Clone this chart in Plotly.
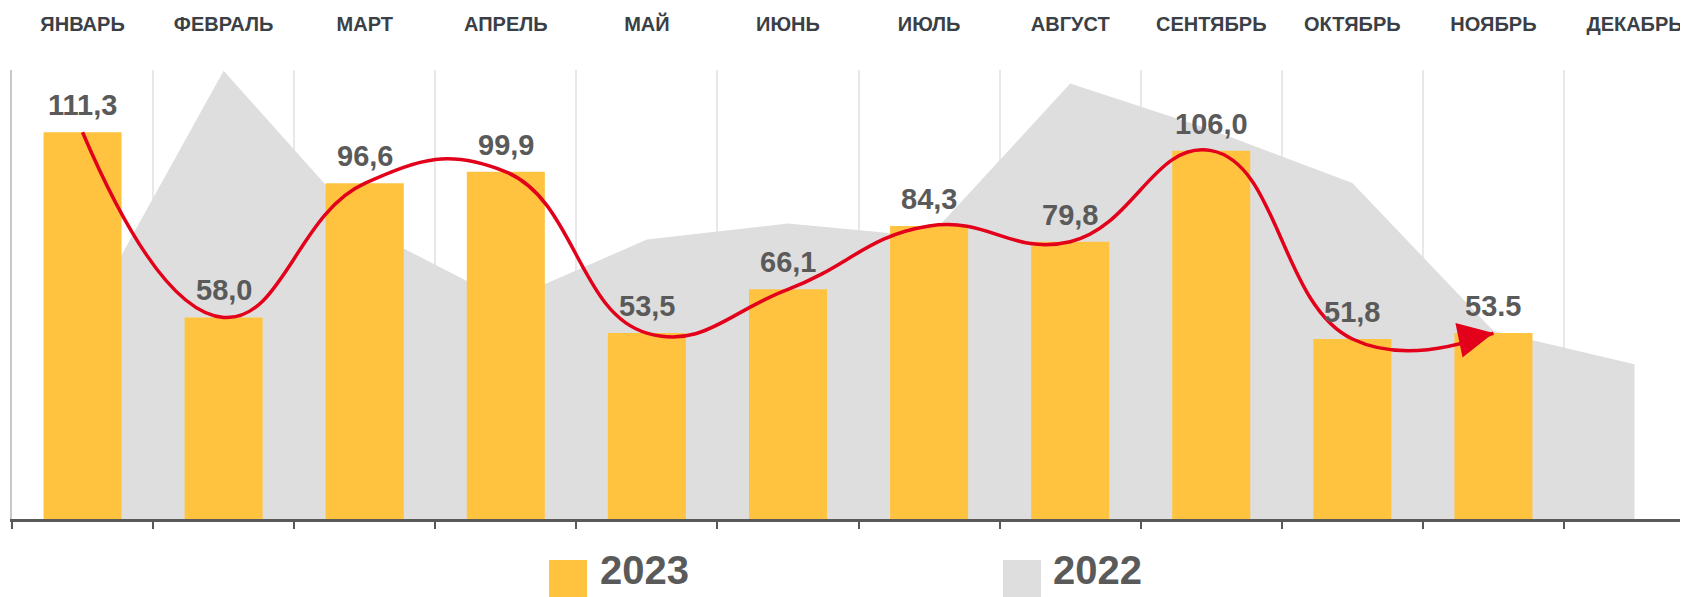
import plotly.graph_objects as go

months = ["ЯНВАРЬ", "ФЕВРАЛЬ", "МАРТ", "АПРЕЛЬ", "МАЙ", "ИЮНЬ", "ИЮЛЬ",
          "АВГУСТ", "СЕНТЯБРЬ", "ОКТЯБРЬ", "НОЯБРЬ", "ДЕКАБРЬ"]
values_2023 = [111.3, 58.0, 96.6, 99.9, 53.5, 66.1, 84.3, 79.8, 106.0, 51.8, 53.5, None]
labels_2023 = ["111,3", "58,0", "96,6", "99,9", "53,5", "66,1", "84,3", "79,8",
               "106,0", "51,8", "53.5", ""]
values_2022 = [55.7, 129.0, 83.6, 62.7, 80.4, 85.0, 81.2, 125.3, 112.0, 96.7, 54.1, 44.5]

YELLOW = "#FFC340"
GRAY = "#DEDEDE"
RED = "#E2001A"
TXT = "#5A5A5A"
FONT = "Liberation Sans, Arial, sans-serif"

# the page body adds an 8px margin; figure coordinates = page coordinates - OFF
OFF = 8
FIG_W, FIG_H = 1688 - OFF, 597 - OFF

fig = go.Figure()

# 2022 area (base subplot, drawn beneath)
fig.add_trace(go.Scatter(
    x=months, y=values_2022, mode="lines", fill="tozeroy",
    line=dict(width=0, color=GRAY), fillcolor=GRAY,
    xaxis="x", yaxis="y", showlegend=False, hoverinfo="skip"))

# 2023 bars (overlay subplot, drawn on top)
fig.add_trace(go.Bar(
    x=months, y=values_2023, marker=dict(color=YELLOW, line=dict(width=0)),
    xaxis="x2", yaxis="y", showlegend=False, width=0.553))

# red trend spline
n = len([v for v in values_2023 if v is not None])
line_x = months[:n]
line_y = values_2023[:n]
fig.add_trace(go.Scatter(
    x=line_x, y=line_y, mode="lines",
    line=dict(color=RED, width=3.5, shape="spline", smoothing=1.3),
    xaxis="x2", yaxis="y", showlegend=False, hoverinfo="skip"))

annotations = []
for m, v, t in zip(months, values_2023, labels_2023):
    if v is None:
        continue
    annotations.append(dict(
        x=m, y=v, xref="x2", yref="y", text=t, showarrow=False,
        yanchor="bottom", yshift=9,
        font=dict(family=FONT, size=29, color=TXT, weight="bold")))

# arrowhead at the end of the trend line (last 2023 point)
annotations.append(dict(
    x=line_x[-1], y=line_y[-1], xref="x2", yref="y", text="",
    showarrow=True, arrowhead=2, arrowsize=2.2, arrowwidth=3.2,
    arrowcolor=RED, ax=-34, ay=7, standoff=0))

# plot area in page pixels
L, R = 12.0, 1688.0
PT, PB = 70.0, 519.0
W = R - L
H = PB - PT


def px(v):
    return (v - L) / W


def py(v):
    return (PB - v) / H


shapes = [
    dict(type="rect", xref="paper", yref="paper", x0=px(549), x1=px(587),
         y0=py(600), y1=py(560), fillcolor=YELLOW, line=dict(width=0), layer="above"),
    dict(type="rect", xref="paper", yref="paper", x0=px(1003), x1=px(1041),
         y0=py(600), y1=py(560), fillcolor=GRAY, line=dict(width=0), layer="above"),
]
for name, xl in (("2023", 598), ("2022", 1051)):
    annotations.append(dict(
        x=px(xl), y=py(570), xref="paper", yref="paper", text=name,
        showarrow=False, xanchor="left", yanchor="middle",
        font=dict(family=FONT, size=40, color=TXT, weight="bold")))

xrange = [-0.5, -0.5 + W / 141.09]

fig.update_layout(
    width=FIG_W, height=FIG_H,
    margin=dict(l=L - OFF, r=FIG_W - (R - OFF), t=PT - OFF, b=FIG_H - (PB - OFF)),
    paper_bgcolor="white", plot_bgcolor="white",
    barmode="overlay",
    font=dict(family=FONT),
    xaxis=dict(
        type="category", range=xrange, categoryorder="array", categoryarray=months,
        showline=True, linecolor="#595959", linewidth=3,
        ticks="outside", ticklen=7, tickwidth=2, tickcolor="#595959",
        tickson="boundaries", showticklabels=False,
        showgrid=True, gridcolor="#E8E8E8", gridwidth=2, zeroline=False,
        fixedrange=True),
    xaxis2=dict(
        type="category", overlaying="x", matches="x", side="top",
        categoryorder="array", categoryarray=months,
        showline=False, ticks="", showgrid=False, zeroline=False,
        showticklabels=True, ticklabelstandoff=34,
        tickfont=dict(family=FONT, size=20, color="#3B3F46", weight="bold")),
    yaxis=dict(
        range=[0, 129.2], showgrid=False, zeroline=False, showticklabels=False,
        showline=True, linecolor="#C8C8C8", linewidth=2, ticks=""),
    annotations=annotations,
    shapes=shapes,
)

fig.write_html("out.html")
